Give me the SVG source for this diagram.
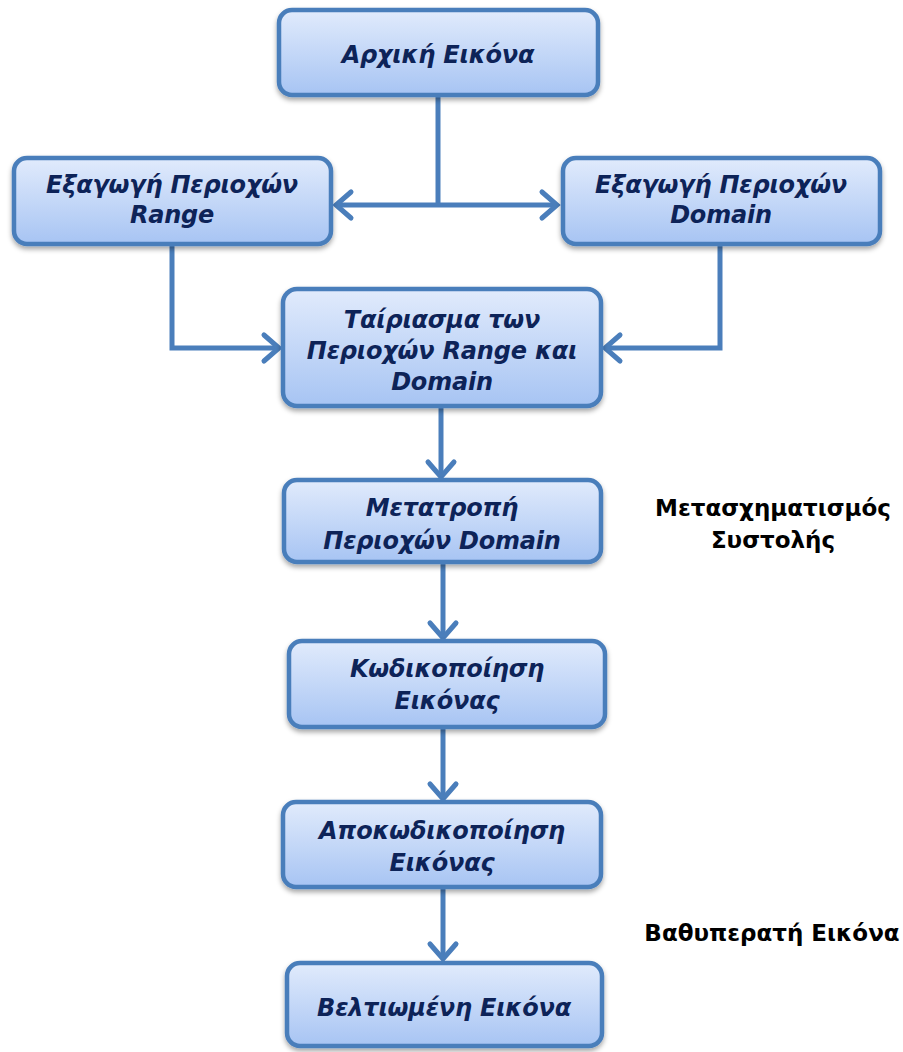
<svg xmlns="http://www.w3.org/2000/svg" width="903" height="1052" viewBox="0 0 903 1052">
<defs>
<linearGradient id="g" x1="0" y1="0" x2="0" y2="1">
<stop offset="0" stop-color="#e1ebfc"/>
<stop offset="1" stop-color="#a7c4f3"/>
</linearGradient>
<filter id="sh" x="-10%" y="-10%" width="120%" height="130%">
<feDropShadow dx="0" dy="3" stdDeviation="2.5" flood-color="#000" flood-opacity="0.35"/>
</filter>
<marker id="ah" markerUnits="userSpaceOnUse" markerWidth="40" markerHeight="40" refX="0" refY="0" viewBox="-20 -20 40 40" orient="auto-start-reverse" overflow="visible">
<path d="M-15,-13 L0,0 L-15,13" fill="none" stroke="#4a7ebb" stroke-width="5" stroke-linecap="round" stroke-linejoin="miter"/>
</marker>
<style>
.box{fill:url(#g);stroke:#4a7ebb;stroke-width:4.5;filter:url(#sh)}
.t{font-family:"DejaVu Sans",Verdana,sans-serif;font-weight:bold;font-style:italic;font-size:24px;letter-spacing:-0.2px;fill:#0d2358;text-anchor:middle}
.lbl{font-family:"DejaVu Sans",Verdana,sans-serif;font-weight:bold;font-size:23px;fill:#000;text-anchor:middle}
.c{fill:none;stroke:#4a7ebb;stroke-width:5}
</style>
</defs>
<rect width="903" height="1052" fill="#fff"/>
<g id="connectors">
<path class="c" d="M438,96 V205"/>
<path class="c" d="M336,205 H557" marker-start="url(#ah)" marker-end="url(#ah)"/>
<path class="c" d="M172,245 V348 H279" marker-end="url(#ah)"/>
<path class="c" d="M720,245 V348 H605" marker-end="url(#ah)"/>
<path class="c" d="M441,408 V477" marker-end="url(#ah)"/>
<path class="c" d="M443,564 V638" marker-end="url(#ah)"/>
<path class="c" d="M443,728 V799" marker-end="url(#ah)"/>
<path class="c" d="M443,888 V959" marker-end="url(#ah)"/>
</g>
<g id="n1"><rect class="box" x="279" y="10" width="319" height="85" rx="13"/><text class="t" x="438" y="63">Αρχική Εικόνα</text></g>
<g id="n2"><rect class="box" x="14" y="158" width="317" height="86" rx="13"/><text class="t" x="172" y="193">Εξαγωγή Περιοχών</text><text class="t" x="172" y="223">Range</text></g>
<g id="n3"><rect class="box" x="563" y="158" width="317" height="86" rx="13"/><text class="t" x="721" y="193">Εξαγωγή Περιοχών</text><text class="t" x="721" y="223">Domain</text></g>
<g id="n4"><rect class="box" x="283" y="289" width="318" height="117" rx="14"/><text class="t" x="442" y="328">Ταίριασμα των</text><text class="t" x="442" y="359">Περιοχών Range και</text><text class="t" x="442" y="390">Domain</text></g>
<g id="n5"><rect class="box" x="284" y="480" width="317" height="82" rx="13"/><text class="t" x="442" y="516">Μετατροπή</text><text class="t" x="442" y="549">Περιοχών Domain</text></g>
<g id="n6"><rect class="box" x="289" y="641" width="316" height="86" rx="13"/><text class="t" x="447" y="677">Κωδικοποίηση</text><text class="t" x="447" y="709">Εικόνας</text></g>
<g id="n7"><rect class="box" x="283" y="802" width="318" height="85" rx="13"/><text class="t" x="442" y="839">Αποκωδικοποίηση</text><text class="t" x="442" y="871">Εικόνας</text></g>
<g id="n8"><rect class="box" x="287" y="963" width="315" height="83" rx="13"/><text class="t" x="444" y="1016">Βελτιωμένη Εικόνα</text></g>
<g id="labels">
<text class="lbl" x="773" y="516">Μετασχηματισμός</text>
<text class="lbl" x="773" y="548">Συστολής</text>
<text class="lbl" x="772" y="941">Βαθυπερατή Εικόνα</text>
</g>
</svg>
